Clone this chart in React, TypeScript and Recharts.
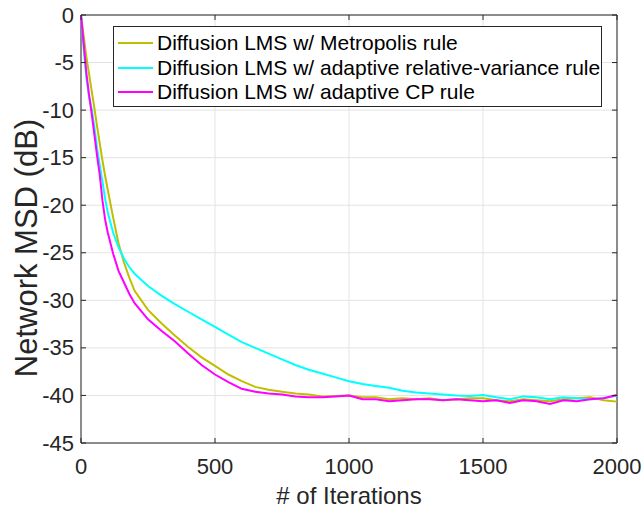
import { LineChart, Line, XAxis, YAxis, CartesianGrid, Legend, ReferenceArea } from 'recharts';

const iterations = [
  0, 10, 20, 30, 40, 50, 60, 70, 80, 90, 100, 120, 140, 160, 180, 200, 250, 300, 350, 400,
  450, 500, 550, 600, 650, 700, 750, 800, 850, 900, 950, 1000, 1050, 1100, 1150, 1200, 1250,
  1300, 1350, 1400, 1450, 1500, 1550, 1600, 1650, 1700, 1750, 1800, 1850, 1900, 1950, 2000,
];

const metropolis = [
  0, -2.2, -4.4, -6.2, -8.0, -9.8, -11.7, -13.5, -15.3, -16.9, -18.4, -21.3, -24.0, -26.0, -27.6,
  -29.0, -31.0, -32.4, -33.7, -34.9, -36.0, -36.9, -37.8, -38.5, -39.1, -39.4, -39.6, -39.8, -39.9,
  -40.1, -40.05, -40.0, -40.2, -40.2, -40.4, -40.3, -40.4, -40.3, -40.5, -40.4, -40.3, -40.3, -40.5,
  -40.6, -40.4, -40.5, -40.6, -40.4, -40.3, -40.2, -40.5, -40.65,
];

const relVariance = [
  0, -3.5, -6.6, -8.6, -9.9, -11.8, -14.0, -15.8, -17.5, -19.3, -20.8, -22.9, -24.4, -25.6, -26.5,
  -27.2, -28.5, -29.5, -30.4, -31.2, -32.0, -32.8, -33.6, -34.4, -35.0, -35.6, -36.2, -36.8, -37.3,
  -37.7, -38.1, -38.5, -38.8, -39.0, -39.2, -39.5, -39.7, -39.8, -39.9, -40.0, -40.05, -39.95, -40.2,
  -40.4, -40.1, -40.2, -40.4, -40.2, -40.3, -40.4, -40.3, -40.0,
];

const adaptiveCP = [
  0, -3.0, -6.1, -8.4, -10.4, -12.6, -14.8, -16.8, -19.5, -21.5, -22.9, -25.1, -26.9, -28.1, -29.3,
  -30.3, -32.0, -33.2, -34.3, -35.6, -36.8, -37.8, -38.6, -39.3, -39.6, -39.8, -39.9, -40.1, -40.2,
  -40.2, -40.1, -40.0, -40.4, -40.4, -40.6, -40.5, -40.4, -40.4, -40.5, -40.4, -40.5, -40.6, -40.5,
  -40.8, -40.5, -40.6, -40.9, -40.5, -40.6, -40.4, -40.3, -39.95,
];

const seriesNames = [
  'Diffusion LMS w/ Metropolis rule',
  'Diffusion LMS w/ adaptive relative-variance rule',
  'Diffusion LMS w/ adaptive CP rule',
];

const xTicks = [0, 500, 1000, 1500, 2000];
const yTicks = [-45, -40, -35, -30, -25, -20, -15, -10, -5, 0];

const data = iterations.map((it, i) => ({
  it,
  metropolis: metropolis[i],
  relVariance: relVariance[i],
  adaptiveCP: adaptiveCP[i],
}));

const FONT = '"Liberation Sans", Arial, Helvetica, sans-serif';
const AXIS = '#262626';
const PL = 81;
const PR = 617;
const PT = 15;
const PB = 443;

function YTick({ y, payload }: any) {
  return (
    <g>
      <line x1={PL} x2={PL + 5} y1={y} y2={y} stroke={AXIS} />
      <line x1={PR - 5} x2={PR} y1={y} y2={y} stroke={AXIS} />
      <text x={PL - 7} y={y} textAnchor="end" dominantBaseline="central" fontSize={22} fontFamily={FONT} fill={AXIS}>
        {payload.value}
      </text>
    </g>
  );
}

function XTick({ x, payload }: any) {
  return (
    <g>
      <line x1={x} x2={x} y1={PB} y2={PB - 5} stroke={AXIS} />
      <line x1={x} x2={x} y1={PT} y2={PT + 5} stroke={AXIS} />
      <text x={x} y={PB + 23} textAnchor="middle" dominantBaseline="central" fontSize={22} fontFamily={FONT} fill={AXIS}>
        {payload.value}
      </text>
    </g>
  );
}

function XTitle() {
  return (
    <text x={(PL + PR) / 2} y={504} textAnchor="middle" fontSize={24} fontFamily={FONT} fill={AXIS}>
      # of Iterations
    </text>
  );
}

function YTitle() {
  return (
    <text
      x={26}
      y={248}
      transform="rotate(-90 26 248)"
      textAnchor="middle"
      dominantBaseline="central"
      fontSize={31}
      fontFamily={FONT}
      fill={AXIS}
    >
      Network MSD (dB)
    </text>
  );
}

function LegendBox({ payload }: any) {
  // keep plotting order, not the alphabetical one
  const items = [...(payload || [])].sort(
    (a: any, b: any) => seriesNames.indexOf(a.value) - seriesNames.indexOf(b.value)
  );
  return (
    <div
      style={{
        boxSizing: 'border-box',
        width: 489,
        height: 81,
        border: `1px solid ${AXIS}`,
        background: '#fff',
        padding: '4px 0 0 4px',
        fontFamily: FONT,
        fontSize: 21,
        color: '#000',
        textAlign: 'left',
      }}
    >
      {items.map((p: any) => (
        <div key={p.value} style={{ display: 'flex', alignItems: 'center', height: 24.5, whiteSpace: 'nowrap' }}>
          <span style={{ display: 'inline-block', width: 35, height: 2, background: p.color, marginRight: 4 }} />
          {p.value}
        </div>
      ))}
    </div>
  );
}

export default function App() {
  return (
    <div style={{ position: 'absolute', left: 0, top: 0, background: '#fff' }}>
      <LineChart width={643} height={508} data={data} margin={{ top: PT, right: 643 - PR, bottom: 0, left: 0 }}>
        <CartesianGrid stroke="#e3e3e3" strokeWidth={1} />
        <ReferenceArea x1={0} x2={2000} y1={-45} y2={0} fill="none" stroke={AXIS} strokeWidth={1} />
        <XAxis
          dataKey="it"
          type="number"
          domain={[0, 2000]}
          ticks={xTicks}
          height={508 - PB}
          axisLine={false}
          tickLine={false}
          tick={<XTick />}
          interval={0}
          label={<XTitle />}
        />
        <YAxis
          type="number"
          domain={[-45, 0]}
          ticks={yTicks}
          width={PL}
          axisLine={false}
          tickLine={false}
          tick={<YTick />}
          interval={0}
          label={<YTitle />}
        />
        <Legend
          layout="horizontal"
          align="center"
          verticalAlign="middle"
          content={<LegendBox />}
          wrapperStyle={{ left: 113, top: 26, width: 489 }}
        />
        <Line type="linear" dataKey="metropolis" name={seriesNames[0]} stroke="#BFBF00" strokeWidth={2} dot={false} isAnimationActive={false} />
        <Line type="linear" dataKey="relVariance" name={seriesNames[1]} stroke="#00FFFF" strokeWidth={2} dot={false} isAnimationActive={false} />
        <Line type="linear" dataKey="adaptiveCP" name={seriesNames[2]} stroke="#FF00FF" strokeWidth={2} dot={false} isAnimationActive={false} />
      </LineChart>
    </div>
  );
}
